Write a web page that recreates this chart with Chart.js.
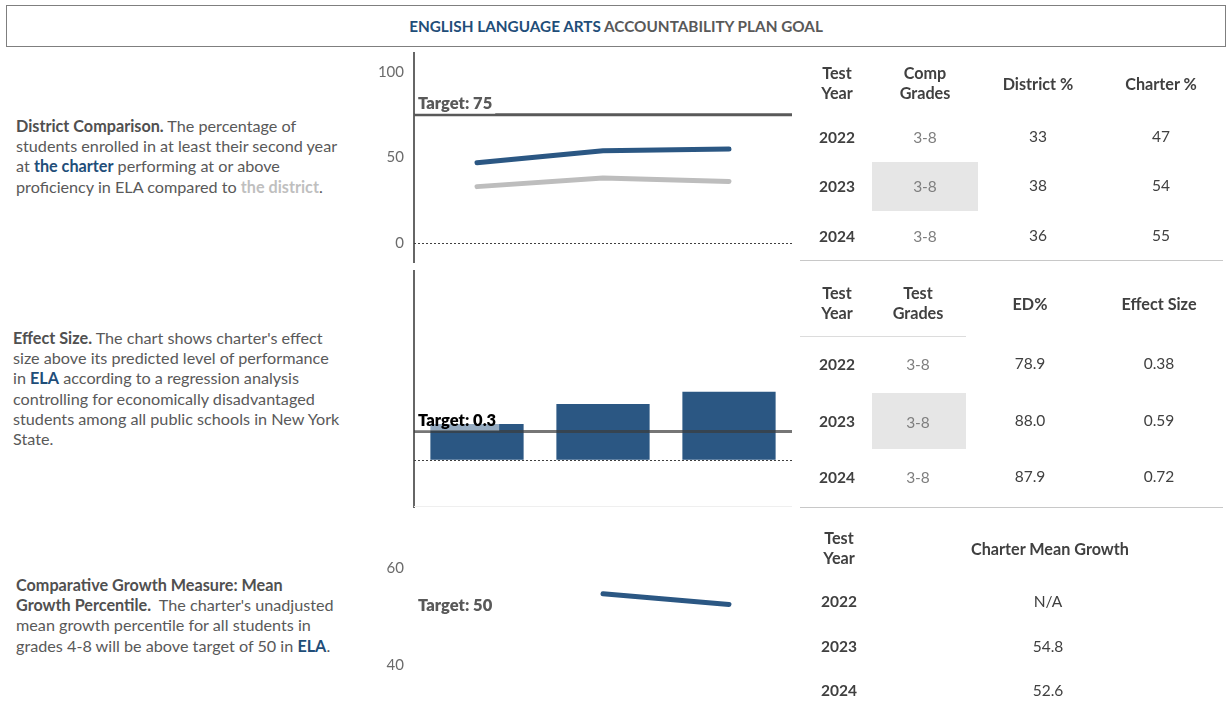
<!DOCTYPE html>
<html><head><meta charset="utf-8">
<script src="https://cdn.jsdelivr.net/npm/chart.js@4.4.1/dist/chart.umd.min.js"></script>
<style>
html,body{margin:0;padding:0;width:1231px;height:710px;overflow:hidden;background:#fff;font-family:Lato,'Open Sans',sans-serif;}
.abs{position:absolute;white-space:nowrap;}
#title{left:6px;top:5px;width:1218px;height:40px;border:1.5px solid #7f7f7f;text-align:center;line-height:40px;font-weight:bold;font-size:15.3px;color:#595959;}
.blue{color:#1F4E79;font-weight:bold;}
.lg{color:#BFBFBF;font-weight:bold;}
.txt{font-size:16.2px;line-height:20.2px;color:#595959;}
.txt b{color:#505050;}
.txt b.blue{color:#1F4E79;}
.txt b.lg{color:#BFBFBF;}
.cell{position:absolute;text-align:center;font-size:15.5px;line-height:20px;color:#404040;white-space:nowrap;}
.hd{font-weight:bold;font-size:16.2px;}
.yr{font-weight:bold;}
.gr{color:#7f7f7f;}
.box{position:absolute;background:#E6E6E6;}
.rule{position:absolute;height:1px;background:#C8C8C8;}
canvas{position:absolute;}
</style>
</head><body>
<div id="title" class="abs"><span class="blue">ENGLISH LANGUAGE ARTS</span> ACCOUNTABILITY PLAN GOAL</div>

<div class="abs txt" style="left:16px;top:116px;"><b>District Comparison.</b> The percentage of<br>students enrolled in at least their second year<br>at <b class="blue">the charter</b> performing at or above<br>proficiency in ELA compared to <b class="lg">the district</b>.</div>
<div class="abs txt" style="left:13px;top:328px;"><b>Effect Size.</b> The chart shows charter's effect<br>size above its predicted level of performance<br>in <b class="blue">ELA</b> according to a regression analysis<br>controlling for economically disadvantaged<br>students among all public schools in New York<br>State.</div>
<div class="abs txt" style="left:16px;top:575px;"><b>Comparative Growth Measure: Mean<br>Growth Percentile.</b>&nbsp; The charter's unadjusted<br>mean growth percentile for all students in<br>grades 4-8 will be above target of 50 in <b class="blue">ELA</b>.</div>

<div class="box" style="left:872px;top:162px;width:106px;height:49px;"></div>
<div class="box" style="left:872px;top:393px;width:94px;height:56px;"></div>
<div class="rule" style="left:800px;top:260px;width:423px;"></div>
<div class="rule" style="left:800px;top:336px;width:166px;background:#DCDCDC;"></div>
<div class="rule" style="left:800px;top:507px;width:423px;"></div>

<canvas id="c1" width="430" height="222" style="left:370px;top:48px;"></canvas>
<canvas id="c2" width="430" height="255" style="left:370px;top:265px;"></canvas>
<canvas id="c3" width="430" height="199" style="left:370px;top:515px;"></canvas>
<div id="tables"></div>

<script>
// ---- data ----
const years = ['2022', '2023', '2024'];
const charterPct = [47, 54, 55];
const districtPct = [33, 38, 36];
const compGrades = ['3-8', '3-8', '3-8'];
const effectSize = [0.38, 0.59, 0.72];
const edPct = ['78.9', '88.0', '87.9'];
const testGrades = ['3-8', '3-8', '3-8'];
const meanGrowth = [null, 54.8, 52.6];
const meanGrowthText = ['N/A', '54.8', '52.6'];
const pctTicks = [0, 50, 100];
const growthTicks = [40, 60];
const pctTarget = 75;
const esTarget = 0.3;
const growthTarget = 50;

// ---- tables ----
const host = document.getElementById('tables');
function cell(html, cx, cy, cls, lines) {
  const d = document.createElement('div');
  d.className = 'cell ' + (cls || '');
  d.innerHTML = html;
  const h = 20 * (lines || 1);
  d.style.left = (cx - 90) + 'px';
  d.style.width = '180px';
  d.style.top = (cy - h / 2) + 'px';
  host.appendChild(d);
}
// table 1
cell('Test<br>Year', 837, 83, 'hd', 2);
cell('Comp<br>Grades', 925, 83, 'hd', 2);
cell('District %', 1038, 84, 'hd');
cell('Charter %', 1161, 84, 'hd');
const t1y = [137, 186, 236];
years.forEach((y, i) => {
  cell(y, 837, t1y[i], 'yr');
  cell(compGrades[i], 925, t1y[i], 'gr');
  cell(String(districtPct[i]), 1038, t1y[i] - 1);
  cell(String(charterPct[i]), 1161, t1y[i] - 1);
});
// table 2
cell('Test<br>Year', 837, 303, 'hd', 2);
cell('Test<br>Grades', 918, 303, 'hd', 2);
cell('ED%', 1030, 304, 'hd');
cell('Effect Size', 1159, 304, 'hd');
const t2y = [364, 421, 477];
years.forEach((y, i) => {
  cell(y, 837, t2y[i], 'yr');
  cell(testGrades[i], 918, t2y[i] + (i === 1 ? 1 : 0), 'gr');
  cell(edPct[i], 1030, t2y[i] - 1);
  cell(effectSize[i].toFixed(2), 1159, t2y[i] - 1);
});
// table 3
cell('Test<br>Year', 839, 548, 'hd', 2);
cell('Charter Mean Growth', 1050, 549, 'hd');
const t3y = [601, 646, 690];
years.forEach((y, i) => {
  cell(y, 839, t3y[i], 'yr');
  cell(meanGrowthText[i], 1048, t3y[i]);
});

// ---- charts ----
Chart.defaults.font.family = 'Lato, "Open Sans", sans-serif';
const targetPlugin = {
  id: 'targetLine',
  afterDatasetsDraw(chart, args, o) {
    const { ctx, chartArea: a, scales: { y } } = chart;
    ctx.save();
    if (o.zero) {
      const yz = Math.round(y.getPixelForValue(0)) + 0.5;
      ctx.setLineDash([2, 2]);
      ctx.strokeStyle = '#404040';
      ctx.lineWidth = 1;
      ctx.beginPath(); ctx.moveTo(a.left, yz); ctx.lineTo(a.right, yz); ctx.stroke();
    }
    if (o.bottom) {
      ctx.setLineDash([]);
      ctx.strokeStyle = '#EFEFEF';
      ctx.lineWidth = 1;
      ctx.beginPath(); ctx.moveTo(a.left, a.bottom - 0.5); ctx.lineTo(a.right, a.bottom - 0.5); ctx.stroke();
    }
    const yt = y.getPixelForValue(o.value);
    if (o.lineColor) {
      ctx.setLineDash([]);
      ctx.strokeStyle = o.lineColor;
      ctx.lineWidth = 3;
      ctx.beginPath(); ctx.moveTo(a.left, yt); ctx.lineTo(a.right, yt); ctx.stroke();
    }
    ctx.font = '800 16.5px Lato, "Open Sans", sans-serif';
    const w = ctx.measureText(o.label).width;
    if (o.labelBg) { ctx.fillStyle = o.labelBg; ctx.fillRect(a.left + 1, yt - 21, w + 6, 20); }
    ctx.fillStyle = o.labelColor;
    ctx.textBaseline = 'middle';
    ctx.fillText(o.label, a.left + 4, yt - 11);
    ctx.restore();
  }
};

function yScale(min, max, tickVals, border) {
  return {
    min, max,
    afterFit(s) { s.width = 44; s.paddingTop = 0; s.paddingBottom = 0; },
    afterBuildTicks(s) { s.ticks = tickVals.map(v => ({ value: v })); },
    ticks: { display: tickVals.length > 0, color: '#6b6b6b', font: { size: 15 }, padding: 10 },
    grid: { display: true, color: 'rgba(0,0,0,0)', drawTicks: false },
    border: { display: border, color: '#666666', width: 2 }
  };
}
const base = {
  responsive: false, animation: false, devicePixelRatio: 1,
  plugins: { legend: { display: false }, tooltip: { enabled: false } }
};

new Chart(document.getElementById('c1'), {
  type: 'line',
  data: {
    labels: years,
    datasets: [
      { data: districtPct, borderColor: '#BDBDBD', borderWidth: 5, pointRadius: 0, borderCapStyle: 'round', borderJoinStyle: 'round' },
      { data: charterPct, borderColor: '#2B5783', borderWidth: 5, pointRadius: 0, borderCapStyle: 'round', borderJoinStyle: 'round' }
    ]
  },
  options: Object.assign({}, base, {
    layout: { padding: { top: 5, bottom: 8, right: 8, left: 0 } },
    scales: {
      x: { display: false, offset: true },
      y: yScale(-11, 111, pctTicks, true)
    },
    plugins: Object.assign({}, base.plugins, {
      targetLine: { value: pctTarget, label: 'Target: ' + pctTarget, labelColor: '#595959', labelBg: '#ffffff', lineColor: '#595959', zero: true }
    })
  }),
  plugins: [targetPlugin]
});

new Chart(document.getElementById('c2'), {
  type: 'bar',
  data: {
    labels: years,
    datasets: [{ data: effectSize, backgroundColor: '#2B5783', categoryPercentage: 1, barPercentage: 0.74 }]
  },
  options: Object.assign({}, base, {
    layout: { padding: { top: 6, bottom: 13, right: 8, left: 0 } },
    scales: {
      x: { display: false, offset: true },
      y: yScale(-0.5, 2.0, [], true)
    },
    plugins: Object.assign({}, base.plugins, {
      targetLine: { value: esTarget, label: 'Target: ' + esTarget, labelColor: '#000000', labelBg: 'rgba(255,255,255,0.5)', lineColor: 'rgba(60,60,60,0.7)', zero: true, bottom: true }
    })
  }),
  plugins: [targetPlugin]
});

new Chart(document.getElementById('c3'), {
  type: 'line',
  data: {
    labels: years,
    datasets: [{ data: meanGrowth, borderColor: '#2B5783', borderWidth: 5, pointRadius: 0, borderCapStyle: 'round', spanGaps: false }]
  },
  options: Object.assign({}, base, {
    layout: { padding: { top: 5, bottom: 0, right: 8, left: 0 } },
    scales: {
      x: { display: false, offset: true },
      y: yScale(30, 70, growthTicks, false)
    },
    plugins: Object.assign({}, base.plugins, {
      targetLine: { value: growthTarget, label: 'Target: ' + growthTarget, labelColor: '#595959', labelBg: null, lineColor: null, zero: false }
    })
  }),
  plugins: [targetPlugin]
});
</script>
</body></html>
